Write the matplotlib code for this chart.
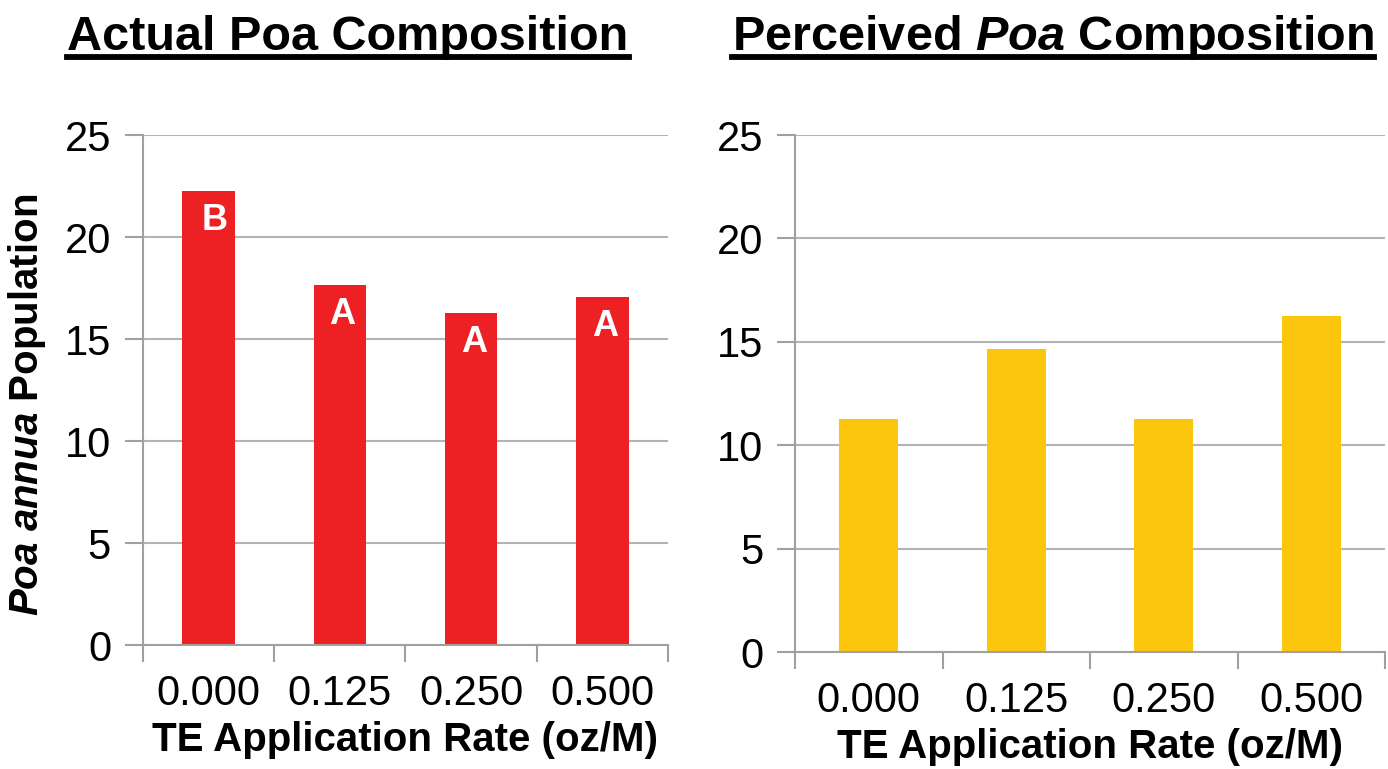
import matplotlib
matplotlib.use("Agg")
import matplotlib.pyplot as plt
from matplotlib.lines import Line2D
import numpy as np

# data
rates = ["0.000", "0.125", "0.250", "0.500"]
actual = [22.25, 17.63, 16.26, 17.06]
actual_letters = ["B", "A", "A", "A"]
perceived = [11.27, 14.63, 11.27, 16.23]

plt.rcParams['font.family'] = ['Liberation Sans', 'DejaVu Sans']
plt.rcParams['mathtext.fontset'] = 'custom'
plt.rcParams['mathtext.it'] = 'Liberation Sans:italic:bold'
plt.rcParams['mathtext.rm'] = 'Liberation Sans:bold'
plt.rcParams['mathtext.bf'] = 'Liberation Sans:bold'

red = "#ED2024"
yellow = "#FCC60D"
grid_c = "#B3B3B3"
axis_c = "#A0A0A0"

fig = plt.figure(figsize=(13.88, 7.69), dpi=100)
ax1 = fig.add_axes([0.1030, 0.1612, 0.3782, 0.6632])
ax2 = fig.add_axes([0.5728, 0.1521, 0.4251, 0.6723])

x = np.arange(len(rates))


def style(ax):
    ax.set_ylim(0, 25)
    ax.set_xlim(-0.5, len(rates) - 0.5)
    ax.set_yticks(range(0, 26, 5))
    ax.yaxis.grid(True, color=grid_c, linewidth=1.5)
    ax.set_axisbelow(True)
    for s in ["top", "right"]:
        ax.spines[s].set_visible(False)
    for s in ["left", "bottom"]:
        ax.spines[s].set_color(axis_c)
        ax.spines[s].set_linewidth(1.5)
    # labels at category centres, tick marks at category boundaries
    ax.set_xticks(x)
    ax.set_xticklabels(rates)
    ax.set_xticks(np.arange(-0.5, len(rates), 1.0), minor=True)
    ax.tick_params(axis="x", which="major", length=0, pad=21, labelsize=30)
    ax.tick_params(axis="x", which="minor", length=12, width=1.5, color=axis_c)
    ax.tick_params(axis="y", length=13, width=1.5, color=axis_c, pad=10, labelsize=30)
    ax.set_xlabel("TE Application Rate (oz/M)", fontsize=29, fontweight="bold", labelpad=5)


ax1.bar(x, actual, width=0.4, color=red, zorder=2)
style(ax1)
for i, (v, lab) in enumerate(zip(actual, actual_letters)):
    ax1.annotate(lab, (x[i], v), xytext=(4 if lab == "B" else 2, -21),
                 textcoords="offset points", ha="center", va="center",
                 color="white", fontsize=26, fontweight="bold", zorder=3)
ax1.set_ylabel(r"$\mathit{Poa}$ $\mathit{annua}$ Population", fontsize=29,
               fontweight="bold")
ax1.yaxis.set_label_coords(-0.18, 0.47)

ax2.bar(x, perceived, width=0.4, color=yellow, zorder=2)
style(ax2)

# titles (underlined)
t1 = fig.text(348 / 1388, 1 - 50 / 769, "Actual Poa Composition", ha="center",
              va="baseline", fontsize=35, fontweight="bold")
t2 = fig.text(1053 / 1388, 1 - 50 / 769, r"Perceived $\mathit{Poa}$ Composition",
              ha="center", va="baseline", fontsize=35, fontweight="bold")

fig.canvas.draw()
r = fig.canvas.get_renderer()
for t in (t1, t2):
    bb = t.get_window_extent(r)
    y = (769 - 57) / 769
    fig.add_artist(Line2D([bb.x0 / 1388, bb.x1 / 1388], [y, y], color="black",
                          linewidth=4.2, transform=fig.transFigure))

fig.savefig("out.png", dpi=100)
